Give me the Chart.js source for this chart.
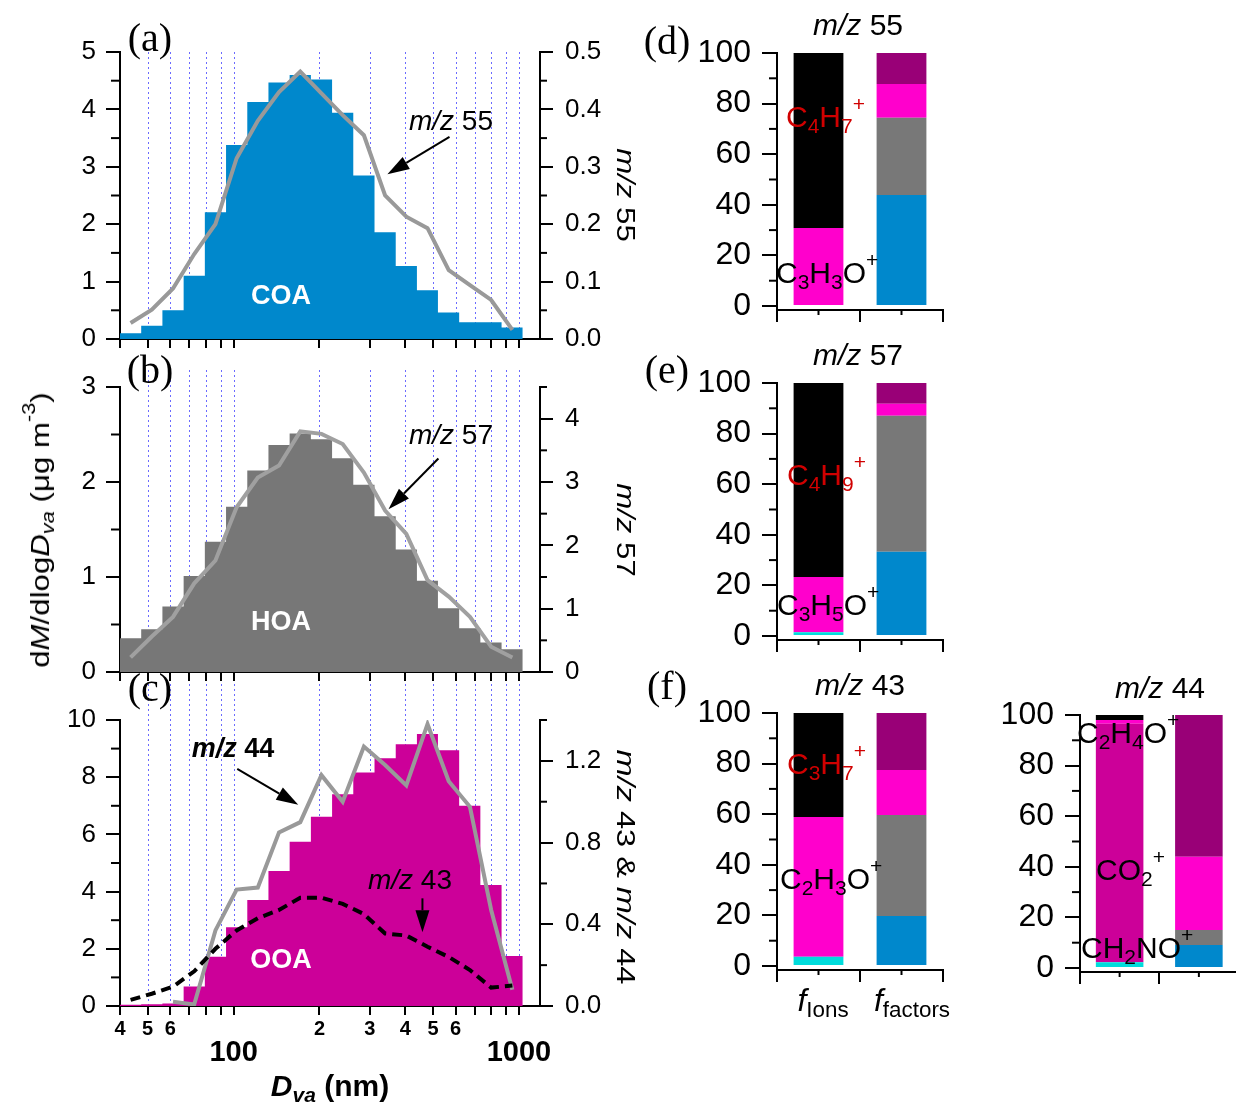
<!DOCTYPE html>
<html>
<head>
<meta charset="utf-8">
<script src="https://cdn.jsdelivr.net/npm/chart.js@4.4.1/dist/chart.umd.min.js"></script>
<style>
  body { margin: 0; background: #fff; width: 1236px; height: 1103px; overflow: hidden; position: relative;
         font-family: 'Liberation Sans', Arial, sans-serif; }
  canvas { position: absolute; }
  .t { position: absolute; white-space: nowrap; line-height: 1; color: #000; z-index: 10; }
  .c { transform: translate(-50%, -50%); }
  .l { transform: translateY(-50%); }
  .serif { font-family: 'Liberation Serif', 'Times New Roman', serif; }
  .t sub { font-size: 0.7em; vertical-align: -0.28em; line-height: 0; }
  .t sup { font-size: 0.7em; vertical-align: 0.75em; line-height: 0; }
  .ion { font-size: 30px; }
  .red { color: #d00000; }
</style>
</head>
<body>

<!-- panel letters -->
<div class="t c serif" style="left:150px;top:38px;font-size:40px">(a)</div>
<div class="t c serif" style="left:150px;top:370px;font-size:40px">(b)</div>
<div class="t c serif" style="left:150px;top:688px;font-size:40px">(c)</div>
<div class="t c serif" style="left:667px;top:41px;font-size:40px">(d)</div>
<div class="t c serif" style="left:667px;top:370px;font-size:40px">(e)</div>
<div class="t c serif" style="left:667px;top:686px;font-size:40px">(f)</div>

<!-- factor names -->
<div class="t c" style="left:281px;top:295px;font-size:27px;font-weight:bold;color:#fff">COA</div>
<div class="t c" style="left:281px;top:621px;font-size:27px;font-weight:bold;color:#fff">HOA</div>
<div class="t c" style="left:281px;top:959px;font-size:27px;font-weight:bold;color:#fff">OOA</div>

<!-- line annotations -->
<div class="t c" style="left:451px;top:121px;font-size:28px"><i>m/z</i> 55</div>
<div class="t c" style="left:451px;top:435px;font-size:28px"><i>m/z</i> 57</div>
<div class="t c" style="left:233px;top:748px;font-size:27px;font-weight:bold"><i>m/z</i> 44</div>
<div class="t c" style="left:410px;top:880px;font-size:28px"><i>m/z</i> 43</div>

<!-- axis titles, left column -->
<div class="t c" style="left:40px;top:530px;font-size:26px;transform:translate(-50%,-50%) rotate(-90deg) scaleX(1.2)">d<i>M</i>/dlog<i>D</i><sub><i>va</i></sub> (μg m<sup>-3</sup>)</div>
<div class="t c" style="left:626px;top:195px;font-size:26px;transform:translate(-50%,-50%) rotate(90deg) scaleX(1.2)"><i>m/z</i> 55</div>
<div class="t c" style="left:626px;top:530px;font-size:26px;transform:translate(-50%,-50%) rotate(90deg) scaleX(1.2)"><i>m/z</i> 57</div>
<div class="t c" style="left:626px;top:867px;font-size:26px;transform:translate(-50%,-50%) rotate(90deg) scaleX(1.25)"><i>m/z</i> 43 &amp; <i>m/z</i> 44</div>
<div class="t c" style="left:330px;top:1086px;font-size:30px;font-weight:bold"><i>D</i><sub><i>va</i></sub> (nm)</div>

<!-- right column titles -->
<div class="t c" style="left:858px;top:25px;font-size:30px"><i>m/z</i> 55</div>
<div class="t c" style="left:858px;top:355px;font-size:30px"><i>m/z</i> 57</div>
<div class="t c" style="left:860px;top:685px;font-size:30px"><i>m/z</i> 43</div>
<div class="t c" style="left:1160px;top:688px;font-size:30px"><i>m/z</i> 44</div>

<!-- ion labels -->
<div class="t l ion red" style="left:786px;top:117px">C<sub>4</sub>H<sub>7</sub><sup>+</sup></div>
<div class="t l ion" style="left:776px;top:273px">C<sub>3</sub>H<sub>3</sub>O<sup>+</sup></div>
<div class="t l ion red" style="left:787px;top:475px">C<sub>4</sub>H<sub>9</sub><sup>+</sup></div>
<div class="t l ion" style="left:777px;top:605px">C<sub>3</sub>H<sub>5</sub>O<sup>+</sup></div>
<div class="t l ion red" style="left:787px;top:764px">C<sub>3</sub>H<sub>7</sub><sup>+</sup></div>
<div class="t l ion" style="left:780px;top:879px">C<sub>2</sub>H<sub>3</sub>O<sup>+</sup></div>
<div class="t l ion" style="left:1077px;top:733px">C<sub>2</sub>H<sub>4</sub>O<sup>+</sup></div>
<div class="t l ion" style="left:1096px;top:870px">CO<sub>2</sub><sup>+</sup></div>
<div class="t l ion" style="left:1081px;top:948px">CH<sub>2</sub>NO<sup>+</sup></div>

<div class="t c" style="left:823px;top:1000px;font-size:32px"><i>f</i><sub>Ions</sub></div>
<div class="t c" style="left:912px;top:1000px;font-size:32px"><i>f</i><sub>factors</sub></div>

<script>
// ----------- size distribution data -----------
const binEdges = [40, 47.46, 56.32, 66.84, 79.31, 94.11, 111.7, 132.5, 157.2, 186.6,
                  221.4, 262.7, 311.8, 370.0, 439.0, 520.1, 617.3, 732.4, 869.1, 1031];
const binMid = [43.57, 51.70, 61.35, 72.81, 86.39, 102.5, 121.6, 144.3, 171.3, 203.2,
                241.2, 286.2, 339.6, 403.0, 478.2, 567.5, 673.4, 799.1, 948.3];

const coaMass = [0.10, 0.23, 0.50, 1.10, 2.21, 3.38, 4.13, 4.47, 4.60, 4.52, 3.94, 2.85, 1.86, 1.27, 0.85, 0.46, 0.29, 0.29, 0.20];
const mz55 = [0.028, 0.051, 0.088, 0.148, 0.20, 0.315, 0.38, 0.43, 0.466, 0.428, 0.39, 0.355, 0.25, 0.213, 0.193, 0.12, 0.094, 0.068, 0.016];

const hoaMass = [0.355, 0.45, 0.69, 1.01, 1.37, 1.74, 2.12, 2.39, 2.51, 2.45, 2.25, 1.97, 1.64, 1.29, 0.96, 0.67, 0.46, 0.31, 0.24];
const mz57 = [0.23, 0.56, 0.87, 1.40, 1.76, 2.60, 3.07, 3.26, 3.80, 3.76, 3.60, 3.15, 2.55, 2.18, 1.45, 1.19, 0.87, 0.40, 0.23];

const ooaMass = [0.04, 0.06, 0.09, 0.68, 1.72, 2.75, 3.71, 4.72, 5.74, 6.62, 7.40, 8.16, 8.66, 9.15, 9.51, 8.94, 7.00, 4.23, 1.75];
const mz44 = [null, null, 0.021, 0.008, 0.37, 0.57, 0.58, 0.85, 0.90, 1.13, 1.00, 1.27, 1.18, 1.08, 1.38, 1.10, 0.975, 0.47, 0.08];
const mz43 = [0.03, 0.06, 0.095, 0.17, 0.28, 0.37, 0.43, 0.47, 0.53, 0.53, 0.50, 0.45, 0.355, 0.345, 0.29, 0.24, 0.176, 0.09, 0.10];

// ----------- axis ticks -----------
const xTickVals = [40, 50, 60, 70, 80, 90, 100, 200, 300, 400, 500, 600, 700, 800, 900, 1000];
const xGridVals = [50, 60, 70, 80, 90, 100, 200, 300, 400, 500, 600, 700, 800, 900, 1000];
const xMinorLabelVals = [40, 50, 60, 200, 300, 400, 500, 600];
const xMinorLabels = ['4', '5', '6', '2', '3', '4', '5', '6'];
const xMajorLabelVals = [100, 1000];
const xMajorLabels = ['100', '1000'];

const aLeftTicks = [0, 1, 2, 3, 4, 5];
const aLeftMinor = [0.5, 1.5, 2.5, 3.5, 4.5];
const aRightTicks = [0, 0.1, 0.2, 0.3, 0.4, 0.5];
const aRightMinor = [0.05, 0.15, 0.25, 0.35, 0.45];
const bLeftTicks = [0, 1, 2, 3];
const bLeftMinor = [0.5, 1.5, 2.5];
const bRightTicks = [0, 1, 2, 3, 4];
const bRightMinor = [0.5, 1.5, 2.5, 3.5, 4.5];
const cLeftTicks = [0, 2, 4, 6, 8, 10];
const cLeftMinor = [1, 3, 5, 7, 9];
const cRightTicks = [0, 0.4, 0.8, 1.2];
const cRightMinor = [0.2, 0.6, 1.0, 1.4];

// ----------- ion / factor fractions (%) -----------
const fracCats = ['Ions', 'factors'];
const fracTicks = [0, 20, 40, 60, 80, 100];
const fracMinor = [10, 30, 50, 70, 90];
const mz55Ions = [0, 30.8, 69.2];
const mz55Factors = [43.9, 30.5, 13.3, 12.3];
const mz57Ions = [1.5, 21.8, 76.7];
const mz57Factors = [33.3, 53.8, 4.7, 8.2];
const mz43Ions = [3.7, 55.2, 41.1];
const mz43Factors = [19.8, 39.9, 17.8, 22.5];
const mz44Ions = [2.3, 94.2, 1.5, 2.0];
const mz44Factors = [9.1, 5.9, 29.0, 56.0];

const ionColors = ['#00dcdc', '#ff00cc', '#000000'];
const ionColors44 = ['#00dcdc', '#cc0099', '#ff00cc', '#000000'];
const factorColors = ['#0088cc', '#787878', '#ff00cc', '#990077'];

const FONT = "'Liberation Sans', Arial, sans-serif";
Chart.defaults.font.family = FONT;
Chart.defaults.color = '#000';
Chart.defaults.animation = false;
Chart.defaults.plugins.legend.display = false;
Chart.defaults.plugins.tooltip.enabled = false;

function makeCanvas(left, top, w, h) {
    const c = document.createElement('canvas');
    c.width = w; c.height = h;
    c.style.left = left + 'px'; c.style.top = top + 'px';
    c.style.width = w + 'px'; c.style.height = h + 'px';
    document.body.appendChild(c);
    return c;
}

// fixed axis boxes, no label overhang padding
function fixWidth(w) {
    return s => { s.width = w; s.paddingTop = 0; s.paddingBottom = 0; };
}
function fixHeight(h) {
    return s => { s.height = h; s.paddingLeft = 0; s.paddingRight = 0; };
}

// ----------- small plugins -----------
const vGrid = {
    id: 'vGrid',
    beforeDatasetsDraw(chart, args, opts) {
        if (!opts.values) return;
        const { ctx, chartArea } = chart;
        const s = chart.scales.x;
        ctx.save();
        ctx.strokeStyle = '#6b6bff';
        ctx.lineWidth = 1;
        ctx.setLineDash([2, 3]);
        opts.values.forEach(v => {
            const p = Math.round(s.getPixelForValue(v)) + 0.5;
            ctx.beginPath();
            ctx.moveTo(p, chartArea.top - (opts.extend || 0));
            ctx.lineTo(p, chartArea.bottom);
            ctx.stroke();
        });
        ctx.restore();
    }
};

const minorTicks = {
    id: 'minorTicks',
    afterDraw(chart, args, opts) {
        const ctx = chart.ctx;
        ctx.save();
        ctx.strokeStyle = '#000';
        ctx.lineWidth = 2;
        (opts.axes || []).forEach(a => {
            const s = chart.scales[a.id];
            a.values.forEach(v => {
                const p = s.getPixelForValue(v);
                ctx.beginPath();
                if (s.position === 'left') { ctx.moveTo(s.right - a.len, p); ctx.lineTo(s.right, p); }
                else if (s.position === 'right') { ctx.moveTo(s.left, p); ctx.lineTo(s.left + a.len, p); }
                else { ctx.moveTo(p, s.top); ctx.lineTo(p, s.top + a.len); }
                ctx.stroke();
            });
        });
        ctx.restore();
    }
};

const arrows = {
    id: 'arrows',
    afterDatasetsDraw(chart, args, opts) {
        const ctx = chart.ctx;
        (opts.list || []).forEach(a => {
            const xs = chart.scales.x, ys = chart.scales[a.axis];
            const x0 = xs.getPixelForValue(a.from[0]), y0 = ys.getPixelForValue(a.from[1]);
            const x1 = xs.getPixelForValue(a.to[0]), y1 = ys.getPixelForValue(a.to[1]);
            const ang = Math.atan2(y1 - y0, x1 - x0);
            const hl = 22, hw = 7;
            const bx = x1 - Math.cos(ang) * hl, by = y1 - Math.sin(ang) * hl;
            ctx.save();
            ctx.strokeStyle = '#000';
            ctx.fillStyle = '#000';
            ctx.lineWidth = 2;
            ctx.beginPath(); ctx.moveTo(x0, y0); ctx.lineTo(bx, by); ctx.stroke();
            ctx.beginPath();
            ctx.moveTo(x1, y1);
            ctx.lineTo(bx - Math.sin(ang) * hw, by + Math.cos(ang) * hw);
            ctx.lineTo(bx + Math.sin(ang) * hw, by - Math.cos(ang) * hw);
            ctx.closePath(); ctx.fill();
            ctx.restore();
        });
    }
};

const xLabels = {
    id: 'xLabels',
    afterDraw(chart, args, opts) {
        if (!opts.show) return;
        const ctx = chart.ctx, s = chart.scales.x;
        ctx.save();
        ctx.fillStyle = '#000';
        ctx.textAlign = 'center';
        ctx.textBaseline = 'middle';
        ctx.font = 'bold 20px ' + FONT;
        xMinorLabelVals.forEach((v, i) => ctx.fillText(xMinorLabels[i], s.getPixelForValue(v), s.top + 23));
        ctx.font = 'bold 29px ' + FONT;
        xMajorLabelVals.forEach((v, i) => ctx.fillText(xMajorLabels[i], s.getPixelForValue(v), s.top + 47));
        ctx.restore();
    }
};

// ----------- size distribution panels -----------
function sizePanel(cfg) {
    const cv = makeCanvas(0, cfg.top, 660, cfg.height);
    const datasets = cfg.lines.map(l => ({
        data: binMid.map((x, i) => ({ x: x, y: l.values[i] })),
        yAxisID: 'y2',
        borderColor: l.color,
        borderWidth: 4,
        borderDash: l.dash || [],
        pointRadius: 0,
        tension: 0,
        fill: false
    }));
    datasets.push({
        data: binEdges.map((x, i) => ({ x: x, y: i < cfg.hist.length ? cfg.hist[i] : 0 })),
        yAxisID: 'y',
        stepped: true,
        borderWidth: 0,
        borderColor: cfg.color,
        backgroundColor: cfg.color,
        pointRadius: 0,
        fill: 'origin'
    });
    const axisLine = { color: '#000', width: 2 };
    return new Chart(cv, {
        type: 'line',
        data: { datasets },
        plugins: [vGrid, minorTicks, arrows, xLabels],
        options: {
            responsive: false,
            layout: { padding: { top: cfg.areaTop, left: 0, right: 0, bottom: 0 } },
            scales: {
                x: {
                    type: 'logarithmic', min: 40, max: 1185,
                    afterBuildTicks: s => { s.ticks = xTickVals.map(v => ({ value: v })); },
                    afterFit: fixHeight(cfg.height - cfg.areaBottom),
                    ticks: { display: false },
                    grid: { drawOnChartArea: false, drawTicks: true, tickLength: 9, color: '#000', lineWidth: 2 },
                    border: axisLine
                },
                y: {
                    position: 'left', min: 0, max: cfg.yMax,
                    afterBuildTicks: s => { s.ticks = cfg.yTicks.map(v => ({ value: v })); },
                    afterFit: fixWidth(120),
                    ticks: { font: { size: 26 }, padding: 10, color: '#000' },
                    grid: { drawOnChartArea: false, tickLength: 14, color: '#000', lineWidth: 2 },
                    border: axisLine
                },
                y2: {
                    position: 'right', min: 0, max: cfg.y2Max,
                    afterBuildTicks: s => { s.ticks = cfg.y2Ticks.map(v => ({ value: v })); },
                    afterFit: fixWidth(120),
                    ticks: { font: { size: 26 }, padding: 12, color: '#000', callback: cfg.fmt },
                    grid: { drawOnChartArea: false, tickLength: 13, color: '#000', lineWidth: 2 },
                    border: axisLine
                }
            },
            plugins: {
                vGrid: { values: xGridVals, extend: cfg.gridExtend },
                minorTicks: { axes: [
                    { id: 'y', values: cfg.yMinor, len: 9 },
                    { id: 'y2', values: cfg.y2Minor, len: 7 }
                ] },
                arrows: { list: cfg.arrows },
                xLabels: { show: !!cfg.xLabels }
            }
        }
    });
}

const oneDecimal = v => v.toFixed(1);
const integer = v => String(Math.round(v));

sizePanel({
    top: 0, height: 360, areaTop: 52, areaBottom: 339, gridExtend: 0,
    hist: coaMass, color: '#0088cc',
    lines: [{ values: mz55, color: '#999999' }],
    yMax: 5, yTicks: aLeftTicks, yMinor: aLeftMinor,
    y2Max: 0.5, y2Ticks: aRightTicks, y2Minor: aRightMinor, fmt: oneDecimal,
    arrows: [{ axis: 'y2', from: [571, 0.352], to: [346, 0.287] }]
});

sizePanel({
    top: 355, height: 340, areaTop: 32, areaBottom: 317, gridExtend: 17,
    hist: hoaMass, color: '#777777',
    lines: [{ values: mz57, color: '#a0a0a0' }],
    yMax: 3, yTicks: bLeftTicks, yMinor: bLeftMinor,
    y2Max: 4.5, y2Ticks: bRightTicks, y2Minor: bRightMinor, fmt: integer,
    arrows: [{ axis: 'y2', from: [522, 3.37], to: [349, 2.57] }]
});

sizePanel({
    top: 680, height: 423, areaTop: 40, areaBottom: 326, gridExtend: 36,
    hist: ooaMass, color: '#cc0099',
    lines: [
        { values: mz43, color: '#000000', dash: [10, 6] },
        { values: mz44, color: '#999999' }
    ],
    yMax: 10, yTicks: cLeftTicks, yMinor: cLeftMinor,
    y2Max: 1.4, y2Ticks: cRightTicks, y2Minor: cRightMinor, fmt: oneDecimal,
    arrows: [
        { axis: 'y2', from: [103, 1.161], to: [168.5, 0.985] },
        { axis: 'y2', from: [459, 0.527], to: [459, 0.361] }
    ],
    xLabels: true
});

// ----------- stacked fraction panels -----------
function fracPanel(cfg) {
    const cv = makeCanvas(cfg.left, cfg.top, cfg.w, 330);
    const n = Math.max(cfg.ions.length, cfg.factors.length);
    const datasets = [];
    for (let i = 0; i < n; i++) {
        datasets.push({
            data: [cfg.ions[i] || 0, cfg.factors[i] || 0],
            backgroundColor: [cfg.ionColors[i] || '#fff', factorColors[i] || '#fff'],
            barPercentage: 0.6,
            categoryPercentage: 1,
            borderWidth: 0
        });
    }
    const axisLine = { color: '#000', width: 2 };
    return new Chart(cv, {
        type: 'bar',
        data: { labels: fracCats, datasets },
        plugins: [minorTicks],
        options: {
            responsive: false,
            layout: { padding: { top: cfg.areaTop, left: 0, right: cfg.w - cfg.areaRight, bottom: 0 } },
            scales: {
                x: {
                    stacked: true,
                    afterFit: fixHeight(330 - cfg.areaBottom),
                    ticks: { display: false },
                    grid: { offset: true, drawOnChartArea: false, drawTicks: true, tickLength: 12, color: '#000', lineWidth: 2 },
                    border: axisLine
                },
                y: {
                    stacked: true, min: -1.58, max: 100,
                    afterBuildTicks: s => { s.ticks = fracTicks.map(v => ({ value: v })); },
                    afterFit: fixWidth(cfg.areaLeft),
                    ticks: { font: { size: 32 }, padding: 11, color: '#000' },
                    grid: { drawOnChartArea: false, tickLength: 15, color: '#000', lineWidth: 2 },
                    border: axisLine
                }
            },
            plugins: {
                minorTicks: { axes: [
                    { id: 'y', values: fracMinor, len: 8 },
                    { id: 'x', values: [0, 1], len: 5 }
                ] }
            }
        }
    });
}

fracPanel({ left: 640, top: 0, w: 320, areaLeft: 137, areaRight: 303, areaTop: 53, areaBottom: 310,
            ions: mz55Ions, ionColors: ionColors, factors: mz55Factors });
fracPanel({ left: 640, top: 330, w: 320, areaLeft: 137, areaRight: 303, areaTop: 53, areaBottom: 310,
            ions: mz57Ions, ionColors: ionColors, factors: mz57Factors });
fracPanel({ left: 640, top: 660, w: 320, areaLeft: 137, areaRight: 303, areaTop: 53, areaBottom: 310,
            ions: mz43Ions, ionColors: ionColors, factors: mz43Factors });
fracPanel({ left: 960, top: 660, w: 290, areaLeft: 120, areaRight: 278.5, areaTop: 55, areaBottom: 312,
            ions: mz44Ions, ionColors: ionColors44, factors: mz44Factors });
</script>
</body>
</html>
